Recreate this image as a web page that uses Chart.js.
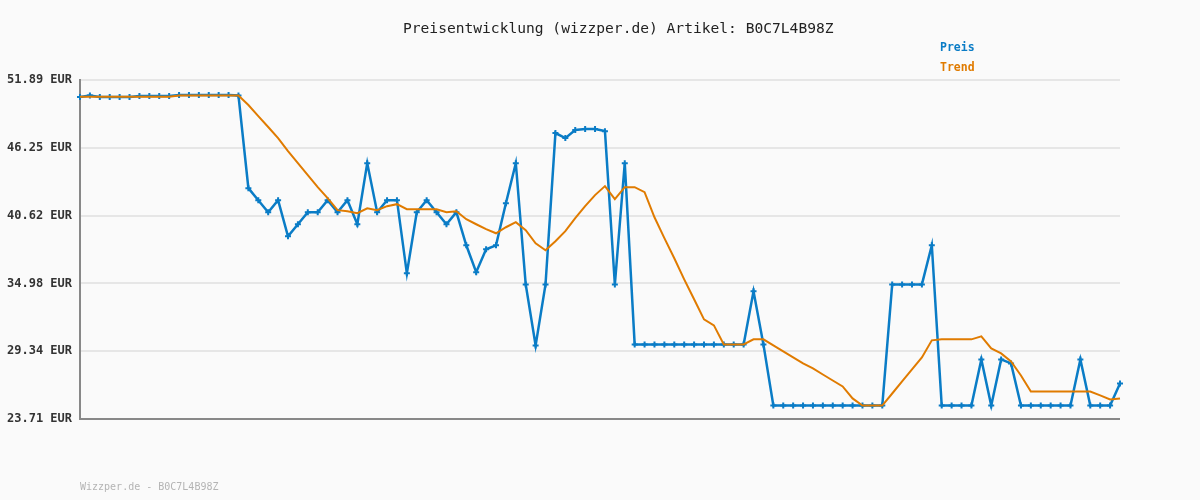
<!DOCTYPE html>
<html>
<head>
<meta charset="utf-8">
<script src="https://cdn.jsdelivr.net/npm/chart.js@4/dist/chart.umd.min.js"></script>
<style>
  body { margin: 0; background: #fafafa; }
  #wrap { position: relative; width: 1200px; height: 500px; }
  .t { position: absolute; font-family: "DejaVu Sans Mono", monospace; white-space: nowrap; }
</style>
</head>
<body>
<div id="wrap">
  <canvas id="priceChart" width="1200" height="500"></canvas>
  <div class="t" style="left:403px;top:19px;font-size:14.6px;color:#222">Preisentwicklung (wizzper.de) Artikel: B0C7L4B98Z</div>
  <div class="t" style="left:940px;top:40px;font-size:11.5px;font-weight:bold;color:#0a7cc6">Preis</div>
  <div class="t" style="left:940px;top:60px;font-size:11.5px;font-weight:bold;color:#e07b00">Trend</div>
  <div class="t" style="left:80px;top:481px;font-size:10px;color:#b4b4b4">Wizzper.de - B0C7L4B98Z</div>
</div>
<script>
const yTicks = [23.71, 29.34, 34.98, 40.62, 46.25, 51.89];

const priceValues = [
  50.47, 50.60, 50.47, 50.47, 50.47, 50.47, 50.56, 50.56, 50.56, 50.56,
  50.64, 50.64, 50.64, 50.64, 50.64, 50.64, 50.60,
  42.90, 41.90, 40.90, 41.90, 38.90, 39.90, 40.90, 40.90, 41.90, 40.90,
  41.90, 39.90, 44.98, 40.90, 41.90, 41.90, 35.82, 40.90, 41.90, 40.90,
  39.90, 40.90, 38.15, 35.91, 37.82, 38.15, 41.65, 44.98, 34.90, 29.83,
  34.90, 47.48, 47.06, 47.73, 47.81, 47.81, 47.64, 34.90, 44.98,
  29.91, 29.91, 29.91, 29.91, 29.91, 29.91, 29.91, 29.91, 29.91, 29.91, 29.91, 29.91,
  34.32, 29.91,
  24.83, 24.83, 24.83, 24.83, 24.83, 24.83, 24.83, 24.83, 24.83, 24.83, 24.83, 24.83,
  34.90, 34.90, 34.90, 34.90, 38.15,
  24.83, 24.83, 24.83, 24.83, 28.66, 24.83, 28.66, 28.33,
  24.83, 24.83, 24.83, 24.83, 24.83, 24.83, 28.66, 24.83, 24.83, 24.83, 26.67
];

const trendValues = [
  50.50, 50.50, 50.50, 50.50, 50.50, 50.50, 50.50, 50.50, 50.50, 50.50,
  50.60, 50.60, 50.60, 50.60, 50.60, 50.60, 50.60,
  49.81, 48.89, 47.98, 47.06, 45.98, 44.98, 43.98, 42.98, 42.07, 41.07,
  40.98, 40.82, 41.23, 41.07, 41.40, 41.57, 41.15, 41.15, 41.15, 41.15,
  40.90, 40.98, 40.32, 39.90, 39.49, 39.15, 39.65, 40.07, 39.40, 38.32,
  37.74, 38.49, 39.32, 40.40, 41.40, 42.32, 43.07, 41.98, 42.98, 42.98,
  42.57, 40.48, 38.74, 37.07, 35.32, 33.66, 31.99, 31.49, 29.91, 29.91,
  29.91, 30.33, 30.33, 29.83, 29.33, 28.83, 28.33, 27.91, 27.41, 26.91,
  26.42, 25.42, 24.83, 24.83, 24.83, 25.83, 26.83, 27.83, 28.83, 30.25,
  30.33, 30.33, 30.33, 30.33, 30.58, 29.58, 29.16, 28.50, 27.33, 26.00,
  26.00, 26.00, 26.00, 26.00, 26.00, 26.00, 25.67, 25.33, 25.42
];

const labels = priceValues.map((_, i) => String(i + 1));

const ctx = document.getElementById('priceChart').getContext('2d');
new Chart(ctx, {
  type: 'line',
  data: {
    labels: labels,
    datasets: [
      {
        label: 'Trend',
        data: trendValues,
        borderColor: '#e07b00',
        borderWidth: 2,
        pointRadius: 0,
        tension: 0
      },
      {
        label: 'Preis',
        data: priceValues,
        borderColor: '#0a7cc6',
        borderWidth: 2.5,
        pointStyle: 'cross',
        pointRadius: 3,
        pointBorderWidth: 2,
        pointBorderColor: '#0a7cc6',
        tension: 0
      }
    ]
  },
  options: {
    responsive: false,
    animation: false,
    layout: { padding: { top: 80, bottom: 81, right: 80, left: 0 } },
    plugins: {
      legend: { display: false },
      tooltip: { enabled: false }
    },
    scales: {
      x: { display: false, offset: false },
      y: {
        min: 23.71,
        max: 51.89,
        afterBuildTicks: s => { s.ticks = yTicks.map(v => ({ value: v })); },
        afterFit: s => { s.width = 80; },
        border: { display: true, color: '#888', width: 2 },
        grid: {
          drawTicks: false,
          lineWidth: 2,
          color: c => (c.tick && c.tick.value === 23.71 ? '#888' : '#e6e6e6')
        },
        ticks: {
          padding: 8,
          color: '#333',
          font: { family: 'DejaVu Sans Mono', size: 12, weight: 'bold' },
          callback: v => Number(v).toFixed(2) + ' EUR'
        }
      }
    }
  }
});
</script>
</body>
</html>
